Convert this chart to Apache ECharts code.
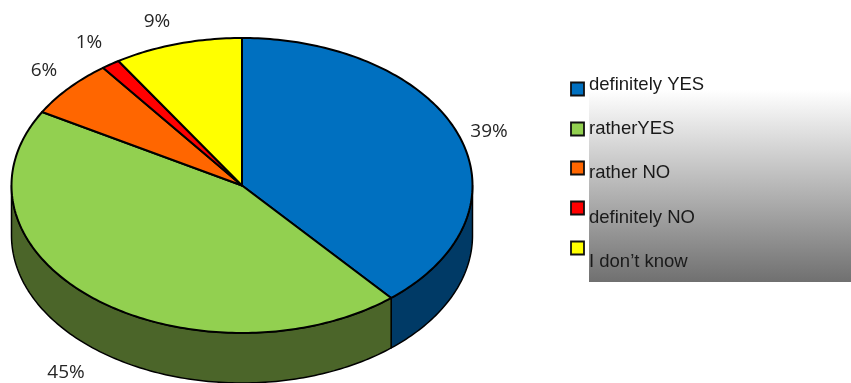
<!DOCTYPE html>
<html><head><meta charset="utf-8">
<style>html,body{margin:0;padding:0;background:#fff}#c{width:851px;height:383px}</style>
<script src="https://cdn.jsdelivr.net/npm/echarts@6/dist/echarts.min.js"></script>
</head><body><div id="c"></div>
<script>
var categories = ['definitely YES', 'ratherYES', 'rather NO', 'definitely NO', 'I don\u2019t know'];
var shareValues = [38.8, 44.5, 6.4, 1.3, 9.0];
var topColors = ['#0070C0', '#92D050', '#FF6600', '#FF0000', '#FFFF00'];
var sideColors = ['#003A66', '#4B6529', '#803300', '#800000', '#808000'];

// layout of the squashed disc
var cx = 242, cy = 185.5, rx = 230.5, ry = 147.5, depth = 50;
var labelPos = [[489, 132], [66, 373], [44, 71], [89, 43], [157, 22]];
var squareY = [89, 129, 168, 208, 248];
var textY = [85, 129, 173, 218, 262];

var total = shareValues.reduce(function (a, b) { return a + b; }, 0);
var running = 0;
var slices = shareValues.map(function (v, i) {
  var s = running; running += v;
  return { value: [i, s / total, running / total, v] };
});
function pt(f, dy) {
  var t = f * 2 * Math.PI;
  return [cx + rx * Math.sin(t), cy - ry * Math.cos(t) + (dy || 0)];
}
function arc(f0, f1, dy) {
  var pts = [], n = Math.max(2, Math.ceil((f1 - f0) * 360));
  for (var k = 0; k <= n; k++) pts.push(pt(f0 + (f1 - f0) * k / n, dy));
  return pts;
}
function wallItem(i, f0, f1) {
  // visible front wall covers 0.25 .. 0.75 of the turn
  var a = Math.max(f0, 0.25), b = Math.min(f1, 0.75);
  if (b <= a) return null;
  var pts = arc(a, b, 0).concat(arc(a, b, depth).reverse());
  return { type: 'polygon', shape: { points: pts },
    style: { fill: sideColors[i], stroke: '#000', lineWidth: 1.5, lineJoin: 'round' } };
}
var lw = 2;
var option = {
  animation: false,
  backgroundColor: '#fff',
  graphic: [{
    type: 'rect', z: 0, shape: { x: 589, y: 90, width: 262, height: 192 },
    style: { fill: { type: 'linear', x: 0, y: 0, x2: 0, y2: 1,
      colorStops: [{ offset: 0, color: '#ffffff' }, { offset: 1, color: '#707070' }] } }
  }].concat(categories.map(function (c, i) {
    return { type: 'rect', z: 5, shape: { x: 571, y: squareY[i] - 6.5, width: 13, height: 13 },
      style: { fill: topColors[i], stroke: '#111', lineWidth: 1.8 } };
  })).concat(categories.map(function (c, i) {
    return { type: 'text', z: 5, x: 589, y: textY[i],
      style: { text: c, fill: '#1a1a1a', font: '18.5px "Liberation Sans", Arial, sans-serif', textVerticalAlign: 'middle' } };
  })),
  series: [{
    type: 'custom',
    coordinateSystem: 'none',
    silent: true,
    data: slices,
    renderItem: function (params, api) {
      var i = api.value(0), f0 = api.value(1), f1 = api.value(2), v = api.value(3);
      var kids = [];
      var wall = wallItem(i, f0, f1);
      if (wall) kids.push(wall);
      var lp = labelPos[i];
      kids.push({ type: 'text', x: lp[0], y: lp[1],
        style: { text: Math.round(v + 1e-9) + '%', fill: '#262626', align: 'center', verticalAlign: 'middle',
                 font: '19px "Open Sans", sans-serif' } });
      return { type: 'group', children: kids };
    },
    z: 1
  }, {
    type: 'custom',
    coordinateSystem: 'none',
    silent: true,
    data: slices,
    renderItem: function (params, api) {
      var i = api.value(0), f0 = api.value(1), f1 = api.value(2);
      var pts = [[cx, cy]].concat(arc(f0, f1, 0));
      return { type: 'polygon', shape: { points: pts },
        style: { fill: topColors[i], stroke: '#000', lineWidth: lw, lineJoin: 'round' } };
    },
    z: 2
  }]
};
var chart = echarts.init(document.getElementById('c'), null, { renderer: 'canvas' });
chart.setOption(option);
</script></body></html>
